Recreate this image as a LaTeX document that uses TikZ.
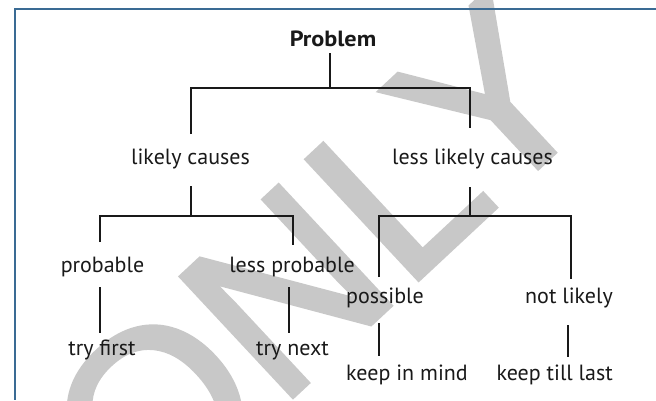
\documentclass[tikz,border=0pt]{standalone}
\usepackage{fontspec}
\setmainfont{PT Sans}
\newfontfamily\wmfont[FakeBold=2]{Liberation Sans}
\definecolor{framecol}{RGB}{58,107,148}
\definecolor{wmcol}{RGB}{200,200,200}
\tikzset{
  lbl/.style={font=\fontsize{22}{24}\selectfont, inner sep=0pt, text=black!90},
  ttl/.style={font=\fontsize{22}{24}\selectfont\bfseries, inner sep=0pt, text=black!90},
  conn/.style={draw=black!90, line width=1.7pt, line join=miter},
  framestyle/.style={draw=framecol, line width=2pt},
  wmstyle/.style={font=\wmfont\fontsize{238}{238}\selectfont, text=wmcol, inner sep=0pt, rotate=43},
}
\begin{document}
\begin{tikzpicture}[x=1pt,y=-1pt]
\useasboundingbox (0,0) rectangle (656,400);
% watermark
\node[wmstyle] (wm) at (318,261) {ONLY};
% frame
\coordinate (fa) at (656,9);
\coordinate (fb) at (15,9);
\coordinate (fc) at (15,400);
\draw[framestyle] (fa) -- (fb) -- (fc);
% labels
\node[ttl, anchor=base] (problem) at (333,46) {\scalebox{1.1}[1]{Problem}};
\node[lbl, anchor=base] (likely) at (190.5,164) {likely causes};
\node[lbl, anchor=base] (lesslikely) at (472.5,164) {less likely causes};
\node[lbl, anchor=base] (probable) at (102.5,272) {probable};
\node[lbl, anchor=base] (lessprob) at (292,272) {less probable};
\node[lbl, anchor=base west] (possible) at (346,303) {possible};
\node[lbl, anchor=base east] (notlikely) at (613,303) {not likely};
\node[lbl, anchor=base] (tryfirst) at (102,355) {try first};
\node[lbl, anchor=base] (trynext) at (292.5,355) {try next};
\node[lbl, anchor=base west] (keepmind) at (346,380) {keep in mind};
\node[lbl, anchor=base east] (keeplast) at (613,380) {keep till last};
% connector joints
\coordinate (p0) at (330,53);  \coordinate (p1) at (330,88);
\coordinate (p2) at (191,134); \coordinate (p3) at (191,88);
\coordinate (p4) at (470,88);  \coordinate (p5) at (470,128);
\coordinate (l0) at (191,186); \coordinate (l1) at (191,216);
\coordinate (l2) at (100,242); \coordinate (l3) at (100,216);
\coordinate (l4) at (293,216); \coordinate (l5) at (293,245);
\coordinate (m0) at (470,187); \coordinate (m1) at (470,216);
\coordinate (m2) at (379,277); \coordinate (m3) at (379,216);
\coordinate (m4) at (571,216); \coordinate (m5) at (571,279);
\coordinate (a0) at (100,287); \coordinate (a1) at (100,333);
\coordinate (b0) at (289,287); \coordinate (b1) at (289,333);
\coordinate (c0) at (379,323); \coordinate (c1) at (379,356);
\coordinate (d0) at (568,325); \coordinate (d1) at (568,357);
% connectors
\draw[conn] (p0) -- (p1);
\draw[conn] (p2) -- (p3) -- (p4) -- (p5);
\draw[conn] (l0) -- (l1);
\draw[conn] (l2) -- (l3) -- (l4) -- (l5);
\draw[conn] (m0) -- (m1);
\draw[conn] (m2) -- (m3) -- (m4) -- (m5);
\draw[conn] (a0) -- (a1);
\draw[conn] (b0) -- (b1);
\draw[conn] (c0) -- (c1);
\draw[conn] (d0) -- (d1);
\end{tikzpicture}
\end{document}
